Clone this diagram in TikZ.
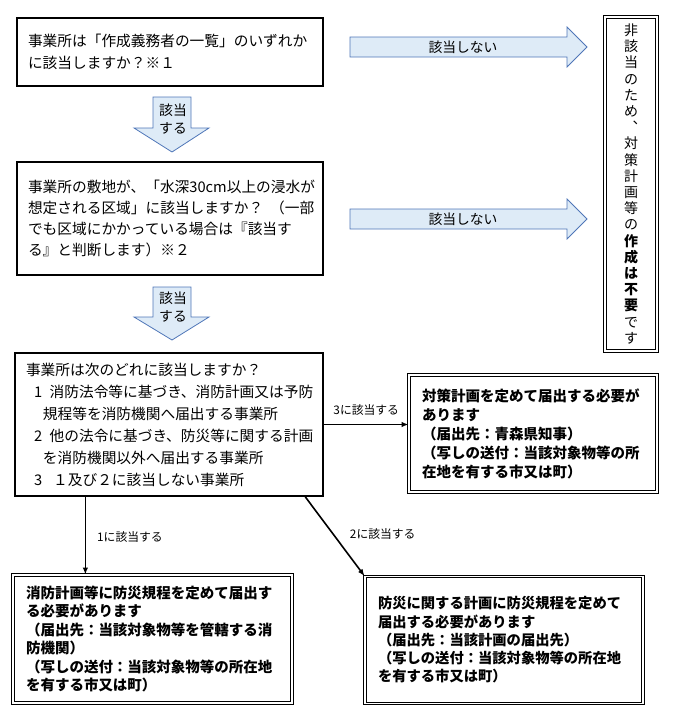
\documentclass[tikz,border=0pt]{standalone}
\usepackage{fontspec}
\setmainfont{Noto Sans CJK JP}
\usetikzlibrary{calc,arrows.meta}
\definecolor{arrfill}{HTML}{DEEBF7}
\definecolor{arrdraw}{HTML}{4F76B8}
\begin{document}
\begin{tikzpicture}[x=1pt,y=-1pt,
  qbox/.style={draw, line width=1.8pt, align=left, inner ysep=0pt, anchor=center,
    font=\fontsize{14.7}{22}\selectfont},
  dbl/.style={draw, double, double distance=1.5pt, line width=0.9pt, align=left,
    inner ysep=0pt, anchor=center},
  rbox/.style={dbl, font=\bfseries\fontsize{14.5}{19}\selectfont},
  blockarr/.style={fill=arrfill, draw=arrdraw, line width=0.8pt, line join=miter},
  arrtext/.style={inner sep=0pt, align=center, font=\fontsize{13.8}{18}\selectfont},
  conn/.style={line width=1.6pt, -{Latex[length=7pt,width=5.5pt]}},
  lab/.style={inner sep=0pt, font=\fontsize{11.8}{14}\selectfont}]
\useasboundingbox (0,0) rectangle (678,720);

% question boxes
\node[qbox, minimum width=306pt, minimum height=68pt, text width=284pt, inner xsep=11pt] (q1) at (170,52)
  {事業所は「作成義務者の一覧」のいずれか\\に該当しますか？※１};
\node[qbox, minimum width=306pt, minimum height=113pt, text width=284pt, inner xsep=11pt,
  font=\fontsize{14.7}{21.3}\selectfont] (q2) at (170,218.5)
  {事業所の敷地が、「水深30cm以上の浸水が\\想定される区域」に該当しますか？\hspace*{7pt}（一部\\でも区域にかかっている場合は『該当す\\る』と判断します）※２};
\node[qbox, minimum width=308pt, minimum height=143pt, text width=286pt, inner xsep=11pt] (q3) at (169,424.5)
  {事業所は次のどれに該当しますか？\\
   \hspace*{8pt}1\hspace*{7.5pt}消防法令等に基づき、消防計画又は予防\\
   \hspace*{17pt}規程等を消防機関へ届出する事業所\\
   \hspace*{8pt}2\hspace*{7.5pt}他の法令に基づき、防災等に関する計画\\
   \hspace*{17pt}を消防機関以外へ届出する事業所\\
   \hspace*{8pt}3\hspace*{11pt}１及び２に該当しない事業所};

% result boxes
\node[rbox, minimum width=248pt, minimum height=117pt, text width=222pt, inner xsep=13pt] (r3) at (533,433.5)
  {対策計画を定めて届出する必要が\\あります\\（届出先：青森県知事）\\（写しの送付：当該対象物等の所\\在地を有する市又は町）};
\node[rbox, minimum width=279pt, minimum height=128pt, text width=253pt, inner xsep=13pt,
  font=\bfseries\fontsize{14.5}{18.4}\selectfont] (r1) at (152.5,639)
  {消防計画等に防災規程を定めて届出す\\る必要があります\\（届出先：当該対象物等を管轄する消\\防機関）\\（写しの送付：当該対象物等の所在地\\を有する市又は町）};
\node[rbox, minimum width=278pt, minimum height=127pt, text width=252pt, inner xsep=13pt,
  font=\bfseries\fontsize{14.3}{18.3}\selectfont] (r2) at (504,640)
  {防災に関する計画に防災規程を定めて\\届出する必要があります\\（届出先：当該計画の届出先）\\（写しの送付：当該対象物等の所在地\\を有する市又は町）};

% vertical box
\node[dbl, minimum width=52pt, minimum height=334pt, text width=20pt, inner xsep=0pt, align=center,
  font=\fontsize{14}{16.2}\selectfont] (nb) at (631,184)
  {非\\該\\当\\の\\た\\め\\︑\\対\\策\\計\\画\\等\\の\\\textbf{作}\\\textbf{成}\\\textbf{は}\\\textbf{不}\\\textbf{要}\\で\\す};

% block arrows
\draw[blockarr] (153,97) -- (191,97) -- (191,128) -- (209,128) -- (172,152) -- (134,128) -- (153,128) -- cycle;
\node[arrtext] (d1) at (173,119) {該当\\する};
\draw[blockarr] (153,287) -- (191,287) -- (191,317) -- (209,317) -- (172,340) -- (134,317) -- (153,317) -- cycle;
\node[arrtext] (d2) at (173,307) {該当\\する};
\draw[blockarr] (350,37) -- (567,37) -- (567,27) -- (587,47) -- (567,67) -- (567,57) -- (350,57) -- cycle;
\node[arrtext] (h1) at (463,47) {該当しない};
\draw[blockarr] (350,209) -- (567,209) -- (567,199) -- (587,219) -- (567,239) -- (567,229) -- (350,229) -- cycle;
\node[arrtext] (h2) at (463,219) {該当しない};

% connectors
\draw[conn] (q3.east) -- (q3.east -| r3.west) node[midway, above=8pt, lab] (l3) {3に該当する};
\coordinate (s1) at ($(q3.south west)!0.23!(q3.south east)$);
\draw[conn] (s1) -- (s1 |- r1.north) node[pos=0.52, right=11pt, lab] (l1) {1に該当する};
\coordinate (s2) at ($(q3.south west)!0.94!(q3.south east)$);
\draw[conn] (s2) -- (r2.north west) node[pos=0.47, right=16pt, lab] (l2) {2に該当する};
\end{tikzpicture}
\end{document}
